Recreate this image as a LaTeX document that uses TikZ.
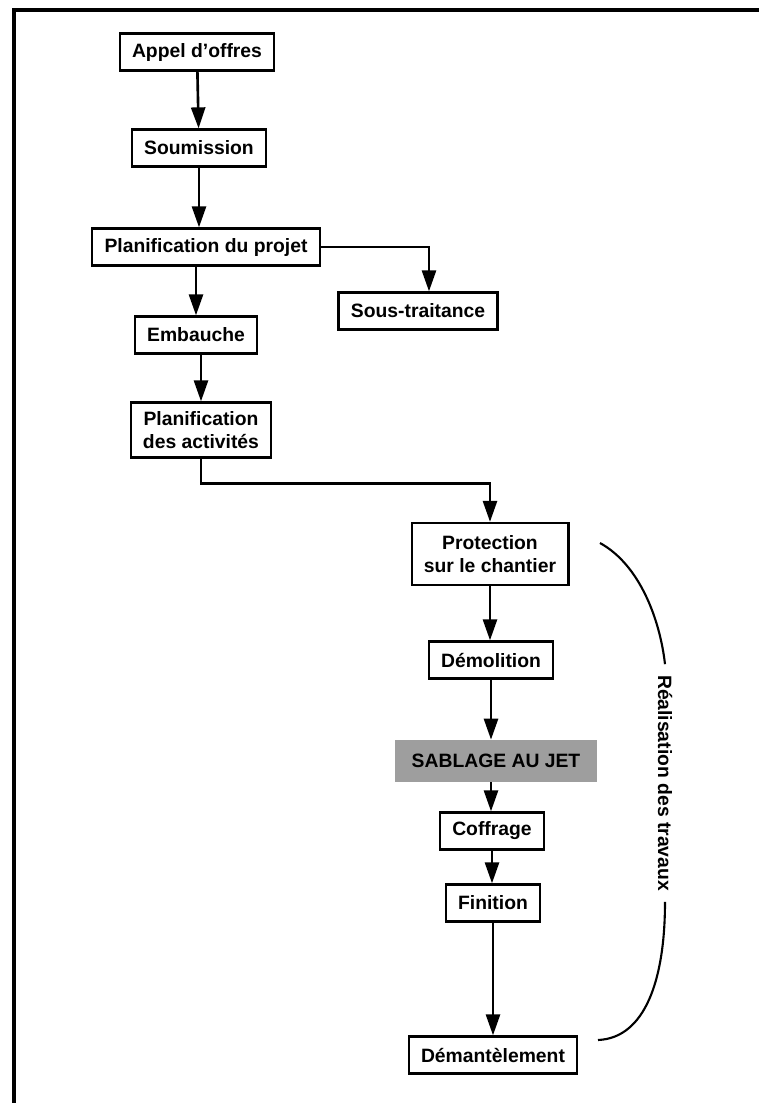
\documentclass[tikz,border=0pt]{standalone}
\usepackage{fontspec}
\setmainfont{Liberation Sans}
\usetikzlibrary{arrows.meta}
\begin{document}
\begin{tikzpicture}
          [x=0.02cm,y=-0.02cm,
          font=\fontsize{11}{13}\selectfont\bfseries,
          box/.style={shape=rectangle,draw=black,fill=white,text=black,line width=1.3pt,inner xsep=7pt,minimum height=0.74cm,align=center},
          shaded/.style={shape=rectangle,fill=black!38,text=black,inner xsep=5pt,minimum height=0.84cm,minimum width=4.06cm},
          arc/.style={-{Triangle[width=0.28cm,length=0.42cm]},line width=1.5pt},
          edge/.style={line width=1.2pt}]

            \useasboundingbox (0,0) rectangle (759,1103);
            \draw [line width=2pt] (759,10) -- (14,10) -- (14,1103);

            \node (appel) [box] at (197,52) {Appel d'offres};
            \node (soum) [box] at (199,148) {Soumission};
            \node (projet) [box] at (206,247) {Planification du projet};
            \node (sous) [box] at (418,311) {Sous-traitance};
            \node (emb) [box] at (196,335) {Embauche};
            \node (activ) [box,minimum height=1.1cm] at (201,430) {Planification\\des activités};
            \node (prot) [box,minimum height=1.24cm] at (490,554) {Protection\\sur le chantier};
            \node (demol) [box] at (491,660) {Démolition};
            \node (sabl) [shaded] at (496,761) {SABLAGE AU JET};
            \node (coff) [box] at (492,831) {Coffrage};
            \node (fini) [box] at (493,903) {Finition};
            \node (deman) [box] at (493,1055) {Démantèlement};

            \node (reali) [rotate=-90,inner sep=6pt] at (665,783) {Réalisation des travaux};
          \coordinate (B1) at (600,543);
          \coordinate (B2) at (598,1040);

          \draw [arc] (appel) -- (soum);
            \draw [arc] (soum.south) -- (soum.south |- projet.north);
            \draw [arc] (projet.east) -| ([xshift=0.22cm]sous.north);
            \draw [arc] (emb.north |- projet.south) -- (emb.north);
            \draw [arc] (activ.north |- emb.south) -- (activ.north);
            \draw [arc] (activ.south) -- ++(0,25) -| (prot.north);
            \draw [arc] (prot) -- (prot |- demol.north);
            \draw [arc] (demol) -- (demol |- sabl.north);
            \draw [arc] (sabl.south -| demol) -- (demol |- coff.north);
            \draw [arc] (coff) -- (coff |- fini.north);
            \draw [arc] (fini) -- (fini |- deman.north);

            \draw [edge] (B1) .. controls (640,565) and (660,620) .. (reali.west);
            \draw [edge] (reali.east) .. controls (665,980) and (645,1038) .. (B2);

        \end{tikzpicture}
\end{document}
